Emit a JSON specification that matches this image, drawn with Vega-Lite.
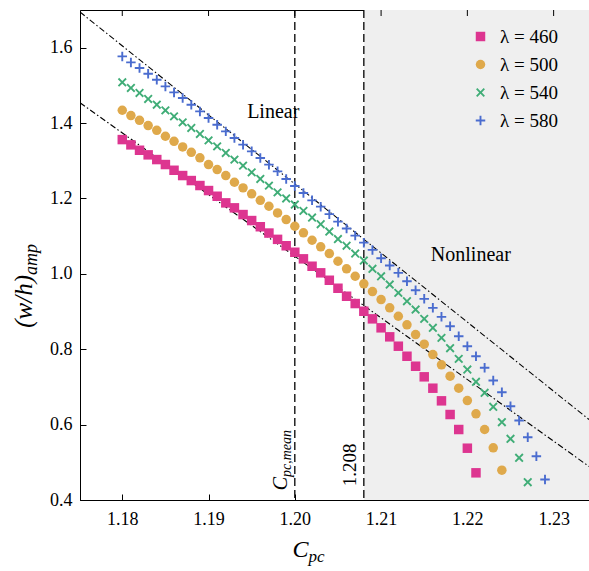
{
"$schema": "https://vega.github.io/schema/vega-lite/v6.json",
"width": 509, "height": 490,
"autosize": "none",
"padding": {"left": 80, "top": 10, "right": 0, "bottom": 71},
"background": "white",
"config": {"view": {"stroke": "black", "strokeWidth": 1}, "font": "Liberation Serif",
  "axis": {"labelFont": "Liberation Serif", "labelFontSize": 18, "labelColor": "black", "domainColor": "black", "tickColor": "black", "grid": false, "domainWidth": 1, "tickWidth": 1},
  "legend": {"labelFont": "Liberation Serif", "labelFontSize": 19, "labelColor": "black", "symbolSize": 90, "symbolStrokeWidth": 0, "rowPadding": 8, "labelOffset": 10, "orient": "none", "legendX": 391, "legendY": 17}
},
"datasets": {
"pts": [
{"lambda":460,"cpc":1.180,"wh":1.3562},{"lambda":460,"cpc":1.181,"wh":1.3422},{"lambda":460,"cpc":1.182,"wh":1.3279},{"lambda":460,"cpc":1.183,"wh":1.3157},{"lambda":460,"cpc":1.184,"wh":1.3032},{"lambda":460,"cpc":1.185,"wh":1.2900},{"lambda":460,"cpc":1.186,"wh":1.2748},{"lambda":460,"cpc":1.187,"wh":1.2608},{"lambda":460,"cpc":1.188,"wh":1.2475},{"lambda":460,"cpc":1.189,"wh":1.2343},
{"lambda":460,"cpc":1.190,"wh":1.2210},{"lambda":460,"cpc":1.191,"wh":1.2059},{"lambda":460,"cpc":1.192,"wh":1.1883},{"lambda":460,"cpc":1.193,"wh":1.1751},{"lambda":460,"cpc":1.194,"wh":1.1573},{"lambda":460,"cpc":1.195,"wh":1.1414},{"lambda":460,"cpc":1.196,"wh":1.1250},{"lambda":460,"cpc":1.197,"wh":1.1082},{"lambda":460,"cpc":1.198,"wh":1.0915},{"lambda":460,"cpc":1.199,"wh":1.0745},
{"lambda":460,"cpc":1.200,"wh":1.0573},{"lambda":460,"cpc":1.201,"wh":1.0398},{"lambda":460,"cpc":1.202,"wh":1.0202},{"lambda":460,"cpc":1.203,"wh":1.0027},{"lambda":460,"cpc":1.204,"wh":0.9830},{"lambda":460,"cpc":1.205,"wh":0.9618},{"lambda":460,"cpc":1.206,"wh":0.9406},{"lambda":460,"cpc":1.207,"wh":0.9212},{"lambda":460,"cpc":1.208,"wh":0.9008},{"lambda":460,"cpc":1.209,"wh":0.8806},
{"lambda":460,"cpc":1.210,"wh":0.8568},{"lambda":460,"cpc":1.211,"wh":0.8329},{"lambda":460,"cpc":1.212,"wh":0.8080},{"lambda":460,"cpc":1.213,"wh":0.7814},{"lambda":460,"cpc":1.214,"wh":0.7549},{"lambda":460,"cpc":1.215,"wh":0.7268},{"lambda":460,"cpc":1.216,"wh":0.6966},{"lambda":460,"cpc":1.217,"wh":0.6631},{"lambda":460,"cpc":1.218,"wh":0.6268},{"lambda":460,"cpc":1.219,"wh":0.5870},
{"lambda":460,"cpc":1.220,"wh":0.5374},{"lambda":460,"cpc":1.221,"wh":0.4721},
{"lambda":500,"cpc":1.180,"wh":1.4340},{"lambda":500,"cpc":1.181,"wh":1.4199},{"lambda":500,"cpc":1.182,"wh":1.4072},{"lambda":500,"cpc":1.183,"wh":1.3933},{"lambda":500,"cpc":1.184,"wh":1.3807},{"lambda":500,"cpc":1.185,"wh":1.3650},{"lambda":500,"cpc":1.186,"wh":1.3515},{"lambda":500,"cpc":1.187,"wh":1.3367},{"lambda":500,"cpc":1.188,"wh":1.3223},{"lambda":500,"cpc":1.189,"wh":1.3077},
{"lambda":500,"cpc":1.190,"wh":1.2899},{"lambda":500,"cpc":1.191,"wh":1.2767},{"lambda":500,"cpc":1.192,"wh":1.2607},{"lambda":500,"cpc":1.193,"wh":1.2430},{"lambda":500,"cpc":1.194,"wh":1.2281},{"lambda":500,"cpc":1.195,"wh":1.2122},{"lambda":500,"cpc":1.196,"wh":1.1951},{"lambda":500,"cpc":1.197,"wh":1.1793},{"lambda":500,"cpc":1.198,"wh":1.1617},{"lambda":500,"cpc":1.199,"wh":1.1439},
{"lambda":500,"cpc":1.200,"wh":1.1263},{"lambda":500,"cpc":1.201,"wh":1.1088},{"lambda":500,"cpc":1.202,"wh":1.0891},{"lambda":500,"cpc":1.203,"wh":1.0716},{"lambda":500,"cpc":1.204,"wh":1.0538},{"lambda":500,"cpc":1.205,"wh":1.0334},{"lambda":500,"cpc":1.206,"wh":1.0133},{"lambda":500,"cpc":1.207,"wh":0.9936},{"lambda":500,"cpc":1.208,"wh":0.9735},{"lambda":500,"cpc":1.209,"wh":0.9531},
{"lambda":500,"cpc":1.210,"wh":0.9318},{"lambda":500,"cpc":1.211,"wh":0.9098},{"lambda":500,"cpc":1.212,"wh":0.8875},{"lambda":500,"cpc":1.213,"wh":0.8647},{"lambda":500,"cpc":1.214,"wh":0.8390},{"lambda":500,"cpc":1.215,"wh":0.8133},{"lambda":500,"cpc":1.216,"wh":0.7859},{"lambda":500,"cpc":1.217,"wh":0.7586},{"lambda":500,"cpc":1.218,"wh":0.7284},{"lambda":500,"cpc":1.219,"wh":0.6966},
{"lambda":500,"cpc":1.220,"wh":0.6639},{"lambda":500,"cpc":1.221,"wh":0.6286},{"lambda":500,"cpc":1.222,"wh":0.5870},{"lambda":500,"cpc":1.223,"wh":0.5385},{"lambda":500,"cpc":1.224,"wh":0.4790},
{"lambda":540,"cpc":1.180,"wh":1.5082},{"lambda":540,"cpc":1.181,"wh":1.4931},{"lambda":540,"cpc":1.182,"wh":1.4798},{"lambda":540,"cpc":1.183,"wh":1.4639},{"lambda":540,"cpc":1.184,"wh":1.4488},{"lambda":540,"cpc":1.185,"wh":1.4337},{"lambda":540,"cpc":1.186,"wh":1.4178},{"lambda":540,"cpc":1.187,"wh":1.4019},{"lambda":540,"cpc":1.188,"wh":1.3870},{"lambda":540,"cpc":1.189,"wh":1.3711},
{"lambda":540,"cpc":1.190,"wh":1.3541},{"lambda":540,"cpc":1.191,"wh":1.3382},{"lambda":540,"cpc":1.192,"wh":1.3207},{"lambda":540,"cpc":1.193,"wh":1.3030},{"lambda":540,"cpc":1.194,"wh":1.2871},{"lambda":540,"cpc":1.195,"wh":1.2693},{"lambda":540,"cpc":1.196,"wh":1.2518},{"lambda":540,"cpc":1.197,"wh":1.2340},{"lambda":540,"cpc":1.198,"wh":1.2162},{"lambda":540,"cpc":1.199,"wh":1.2000},
{"lambda":540,"cpc":1.200,"wh":1.1838},{"lambda":540,"cpc":1.201,"wh":1.1671},{"lambda":540,"cpc":1.202,"wh":1.1494},{"lambda":540,"cpc":1.203,"wh":1.1316},{"lambda":540,"cpc":1.204,"wh":1.1122},{"lambda":540,"cpc":1.205,"wh":1.0923},{"lambda":540,"cpc":1.206,"wh":1.0746},{"lambda":540,"cpc":1.207,"wh":1.0539},{"lambda":540,"cpc":1.208,"wh":1.0353},{"lambda":540,"cpc":1.209,"wh":1.0133},
{"lambda":540,"cpc":1.210,"wh":0.9936},{"lambda":540,"cpc":1.211,"wh":0.9716},{"lambda":540,"cpc":1.212,"wh":0.9496},{"lambda":540,"cpc":1.213,"wh":0.9273},{"lambda":540,"cpc":1.214,"wh":0.9053},{"lambda":540,"cpc":1.215,"wh":0.8806},{"lambda":540,"cpc":1.216,"wh":0.8568},{"lambda":540,"cpc":1.217,"wh":0.8302},{"lambda":540,"cpc":1.218,"wh":0.8027},{"lambda":540,"cpc":1.219,"wh":0.7745},
{"lambda":540,"cpc":1.220,"wh":0.7462},{"lambda":540,"cpc":1.221,"wh":0.7135},{"lambda":540,"cpc":1.222,"wh":0.6844},{"lambda":540,"cpc":1.223,"wh":0.6472},{"lambda":540,"cpc":1.224,"wh":0.6064},{"lambda":540,"cpc":1.225,"wh":0.5623},{"lambda":540,"cpc":1.226,"wh":0.5119},{"lambda":540,"cpc":1.227,"wh":0.4472},
{"lambda":580,"cpc":1.180,"wh":1.5769},{"lambda":580,"cpc":1.181,"wh":1.5610},{"lambda":580,"cpc":1.182,"wh":1.5461},{"lambda":580,"cpc":1.183,"wh":1.5310},{"lambda":580,"cpc":1.184,"wh":1.5151},{"lambda":580,"cpc":1.185,"wh":1.4973},{"lambda":580,"cpc":1.186,"wh":1.4814},{"lambda":580,"cpc":1.187,"wh":1.4665},{"lambda":580,"cpc":1.188,"wh":1.4488},{"lambda":580,"cpc":1.189,"wh":1.4310},
{"lambda":580,"cpc":1.190,"wh":1.4135},{"lambda":580,"cpc":1.191,"wh":1.3957},{"lambda":580,"cpc":1.192,"wh":1.3780},{"lambda":580,"cpc":1.193,"wh":1.3605},{"lambda":580,"cpc":1.194,"wh":1.3427},{"lambda":580,"cpc":1.195,"wh":1.3250},{"lambda":580,"cpc":1.196,"wh":1.3075},{"lambda":580,"cpc":1.197,"wh":1.2897},{"lambda":580,"cpc":1.198,"wh":1.2719},{"lambda":580,"cpc":1.199,"wh":1.2518},
{"lambda":580,"cpc":1.200,"wh":1.2332},{"lambda":580,"cpc":1.201,"wh":1.2146},{"lambda":580,"cpc":1.202,"wh":1.1950},{"lambda":580,"cpc":1.203,"wh":1.1783},{"lambda":580,"cpc":1.204,"wh":1.1584},{"lambda":580,"cpc":1.205,"wh":1.1385},{"lambda":580,"cpc":1.206,"wh":1.1205},{"lambda":580,"cpc":1.207,"wh":1.1014},{"lambda":580,"cpc":1.208,"wh":1.0828},{"lambda":580,"cpc":1.209,"wh":1.0635},
{"lambda":580,"cpc":1.210,"wh":1.0413},{"lambda":580,"cpc":1.211,"wh":1.0220},{"lambda":580,"cpc":1.212,"wh":1.0027},{"lambda":580,"cpc":1.213,"wh":0.9804},{"lambda":580,"cpc":1.214,"wh":0.9565},{"lambda":580,"cpc":1.215,"wh":0.9337},{"lambda":580,"cpc":1.216,"wh":0.9098},{"lambda":580,"cpc":1.217,"wh":0.8859},{"lambda":580,"cpc":1.218,"wh":0.8610},{"lambda":580,"cpc":1.219,"wh":0.8345},
{"lambda":580,"cpc":1.220,"wh":0.8080},{"lambda":580,"cpc":1.221,"wh":0.7814},{"lambda":580,"cpc":1.222,"wh":0.7507},{"lambda":580,"cpc":1.223,"wh":0.7170},{"lambda":580,"cpc":1.224,"wh":0.6859},{"lambda":580,"cpc":1.225,"wh":0.6488},{"lambda":580,"cpc":1.226,"wh":0.6109},{"lambda":580,"cpc":1.227,"wh":0.5666},{"lambda":580,"cpc":1.228,"wh":0.5162},{"lambda":580,"cpc":1.229,"wh":0.4544}
]
},
"encoding": {
  "x": {"field": "cpc", "type": "quantitative", "scale": {"domain": [1.1751, 1.2341], "nice": false, "zero": false},
        "axis": {"title": null, "values": [1.18, 1.19, 1.2, 1.21, 1.22, 1.23], "format": ".2f", "tickSize": -6, "labelPadding": 16, "labelFont": "Liberation Serif", "labelFontSize": 18}},
  "y": {"field": "wh", "type": "quantitative", "scale": {"domain": [0.4, 1.7], "nice": false, "zero": false},
        "axis": {"title": null, "values": [0.4, 0.6, 0.8, 1.0, 1.2, 1.4, 1.6], "format": ".1f", "tickSize": -6, "labelPadding": 14, "labelFont": "Liberation Serif", "labelFontSize": 18}}
},
"layer": [
{"data": {"values": [{"cpc": 1.208, "cpc2": 1.2341, "wh": 0.4, "wh2": 1.7}]},
 "mark": {"type": "rect", "color": "#efefef"},
 "encoding": {"x2": {"field": "cpc2"}, "y2": {"field": "wh2"}}},
{"data": {"values": [{"cpc": 1.2, "wh": 0.4}, {"cpc": 1.208, "wh": 0.4}]},
 "mark": {"type": "rule", "color": "black", "strokeWidth": 1.3, "strokeDash": [8, 4]},
 "encoding": {"y": null}},
{"data": {"values": [{"cpc": 1.18, "wh": 1.7}, {"cpc": 1.19, "wh": 1.7}, {"cpc": 1.2, "wh": 1.7}, {"cpc": 1.21, "wh": 1.7}, {"cpc": 1.22, "wh": 1.7}, {"cpc": 1.23, "wh": 1.7}]},
 "mark": {"type": "tick", "orient": "vertical", "color": "black", "size": 12, "thickness": 1, "clip": true, "opacity": 1},
 "encoding": {}},
{"data": {"values": [{"line": "upper", "cpc": 1.1751, "wh": 1.6947}, {"line": "upper", "cpc": 1.2341, "wh": 0.6135}, {"line": "lower", "cpc": 1.1751, "wh": 1.454}, {"line": "lower", "cpc": 1.2341, "wh": 0.489}]},
 "mark": {"type": "line", "color": "black", "strokeWidth": 1.1, "strokeDash": [6, 2.5, 1.5, 2.5], "clip": true},
 "encoding": {"detail": {"field": "line"}}},
{"data": {"name": "pts"},
 "mark": {"type": "point", "filled": true, "size": 90, "opacity": 1},
 "encoding": {
  "color": {"field": "lambda", "type": "nominal", "scale": {"domain": [460, 500, 540, 580], "range": ["#dd3590", "#dfa94b", "#40ad77", "#4a6ccf"]}, "legend": {"title": null, "labelFont": "Liberation Serif", "labelFontSize": 19, "labelExpr": "'λ = ' + datum.label"}},
  "shape": {"field": "lambda", "type": "nominal", "scale": {"domain": [460, 500, 540, 580], "range": ["square", "circle", "M0,-0.283L0.659,-0.941L0.941,-0.659L0.283,0L0.941,0.659L0.659,0.941L0,0.283L-0.659,0.941L-0.941,0.659L-0.283,0L-0.941,-0.659L-0.659,-0.941Z", "M-1,-0.2H-0.2V-1H0.2V-0.2H1V0.2H0.2V1H-0.2V0.2H-1Z"]}, "legend": {"title": null, "labelFont": "Liberation Serif", "labelFontSize": 19, "labelExpr": "'λ = ' + datum.label"}}}},
{"data": {"values": [{"cpc": 1.1975, "wh": 1.4294, "label": "Linear"}, {"cpc": 1.2204, "wh": 1.05, "label": "Nonlinear"}]},
 "mark": {"type": "text", "fontSize": 20, "font": "Liberation Serif", "color": "black", "align": "center", "baseline": "middle"},
 "encoding": {"text": {"field": "label"}}},
{"data": {"values": [{"cpc": 1.2064, "wh": 0.4929, "label": "1.208"}]},
 "mark": {"type": "text", "fontSize": 19, "font": "Liberation Serif", "color": "black", "align": "center", "baseline": "middle", "angle": 270},
 "encoding": {"text": {"field": "label"}}},
{"data": {"values": [{"cpc": 1.1991, "wh": 0.461, "label": "C"}]},
 "mark": {"type": "text", "fontSize": 20, "font": "Liberation Serif", "fontStyle": "italic", "color": "black", "align": "right", "baseline": "alphabetic", "angle": 270},
 "encoding": {"text": {"field": "label"}}},
{"data": {"values": [{"cpc": 1.1991, "wh": 0.461, "label": "pc,mean"}]},
 "mark": {"type": "text", "fontSize": 14, "font": "Liberation Serif", "fontStyle": "italic", "color": "black", "align": "left", "baseline": "alphabetic", "angle": 270, "dy": 4},
 "encoding": {"text": {"field": "label"}}},
{"data": {"values": [{"cpc": 1.2016, "wh": 0.2488, "label": "C"}]},
 "mark": {"type": "text", "fontSize": 24, "font": "Liberation Serif", "fontStyle": "italic", "color": "black", "align": "right", "baseline": "alphabetic"},
 "encoding": {"text": {"field": "label"}}},
{"data": {"values": [{"cpc": 1.2016, "wh": 0.2488, "label": "pc"}]},
 "mark": {"type": "text", "fontSize": 17, "font": "Liberation Serif", "fontStyle": "italic", "color": "black", "align": "left", "baseline": "alphabetic", "dy": 5},
 "encoding": {"text": {"field": "label"}}},
{"data": {"values": [{"cpc": 1.1695, "wh": 0.997, "label": "(w/h)"}]},
 "mark": {"type": "text", "fontSize": 25, "font": "Liberation Serif", "fontStyle": "italic", "color": "black", "align": "right", "baseline": "alphabetic", "angle": 270},
 "encoding": {"text": {"field": "label"}}},
{"data": {"values": [{"cpc": 1.1695, "wh": 0.997, "label": "amp"}]},
 "mark": {"type": "text", "fontSize": 18, "font": "Liberation Serif", "fontStyle": "italic", "color": "black", "align": "left", "baseline": "alphabetic", "angle": 270, "dy": 5},
 "encoding": {"text": {"field": "label"}}}
]
}
